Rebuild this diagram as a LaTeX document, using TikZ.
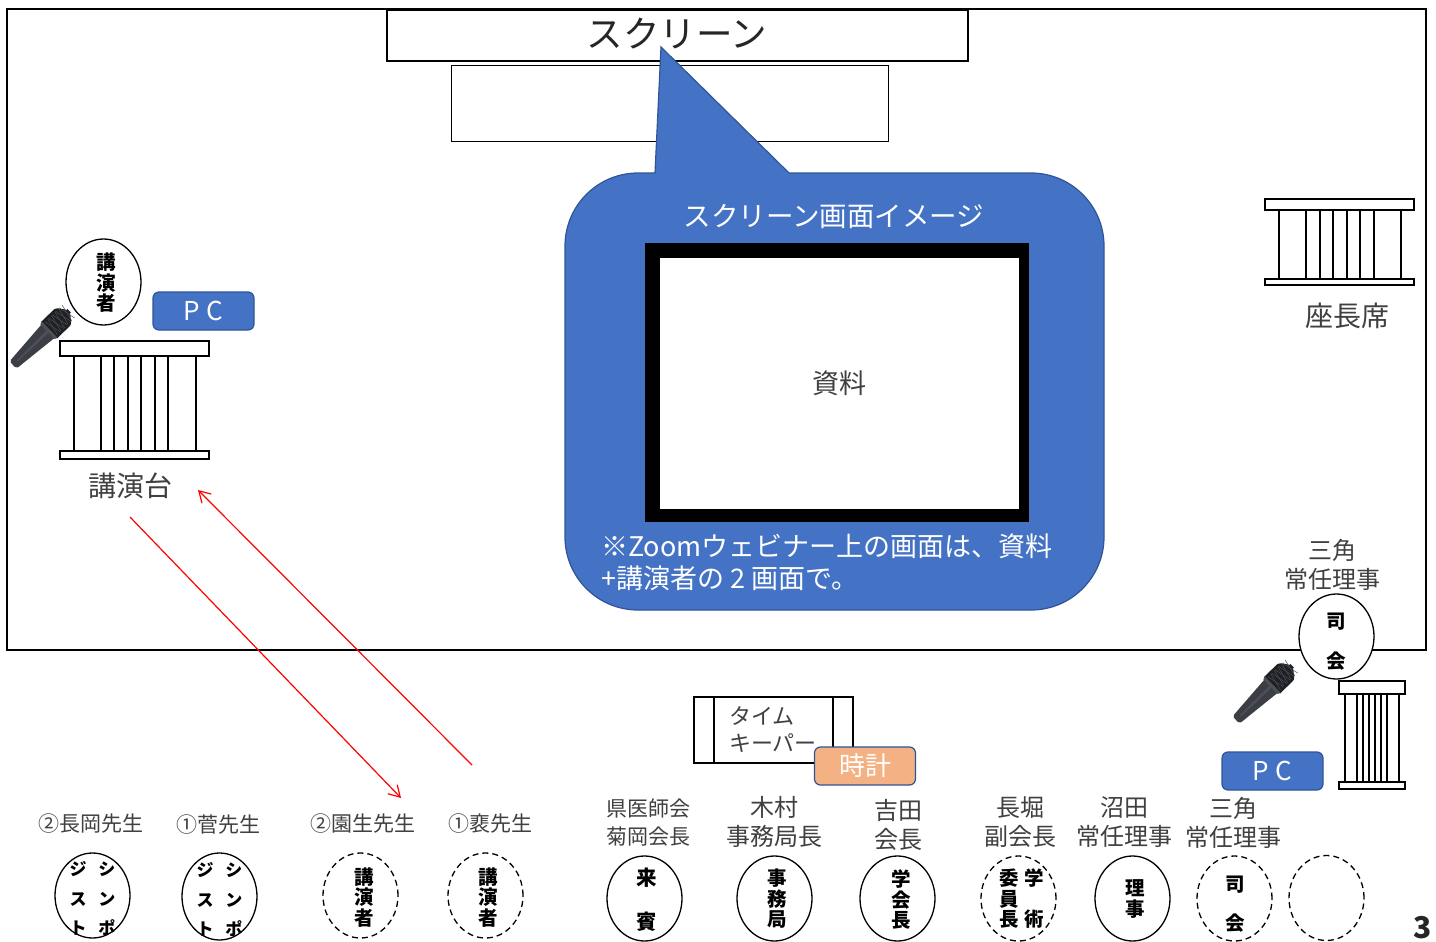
\documentclass[tikz,border=0pt]{standalone}
\usepackage{fontspec}
\setmainfont{Noto Sans CJK JP}
\usetikzlibrary{arrows.meta,shapes.geometric,calc}
\definecolor{pcblue}{HTML}{4472C4}
\definecolor{pcedge}{HTML}{2F5597}
\definecolor{clockfill}{HTML}{F4B183}
\definecolor{labcol}{HTML}{404040}
\definecolor{micbody}{HTML}{3B3F45}
\definecolor{michead}{HTML}{1E2024}
\definecolor{micmesh}{HTML}{4C5056}
\newcommand{\fsz}[2]{\fontsize{#1}{#2}\selectfont}
\tikzset{
  seat/.style={draw=black,line width=1.3pt,ellipse,minimum width=75pt,minimum height=85pt,inner sep=0pt,fill=white},
  seatd/.style={seat,dash pattern=on 6pt off 4pt},
  intext/.style={font=\bfseries\fsz{19.5}{20.5},align=center,inner sep=0pt,text=black,yshift=-1pt},
  biglab/.style={font=\fsz{24}{29},align=center,inner sep=0pt,text=labcol,yshift=-1pt},
  smalllab/.style={font=\fsz{21}{28},align=center,inner sep=0pt,text=labcol,yshift=-1pt},
  pcbox/.style={draw=pcedge,line width=1.2pt,fill=pcblue,rounded corners=6pt,minimum width=101pt,minimum height=38pt,inner sep=0pt,text=white,font=\fsz{26}{28}},
  clockbox/.style={pcbox,fill=clockfill},
  plank/.style={draw=black,line width=1.1pt,fill=white,inner sep=0pt},
  slat/.style={draw=black,line width=1.1pt},
  redarrow/.style={draw=red,line width=1.2pt,-{Straight Barb[length=11pt,width=13pt,line width=1.2pt]}},
  mic/.pic={
    \fill[micbody,rounded corners=2pt] (0,-5) -- (0,5) -- (50,9.5) -- (50,-9.5) -- cycle;
    \fill[micmesh] (6,-0.8) -- (50,-1.5) -- (50,1.5) -- (6,0.8) -- cycle;
    \fill[michead] (50,-11.5) -- (68,-11.5) to[out=0,in=-90] (78,-3) -- (78,3) to[out=90,in=0] (68,11.5) -- (50,11.5) -- cycle;
    \foreach \k in {53,58,...,73}{
      \draw[micmesh,line width=0.5pt] (\k,-9) -- ++(4,18);
      \draw[micmesh,line width=0.5pt] (\k,9) -- ++(4,-18);
    }
    \fill[micmesh] (48,-10.5) rectangle (51,10.5);
  }
}
\begin{document}
\begin{tikzpicture}[x=1pt,y=-1pt]
\useasboundingbox (0,0) rectangle (1436,942);
\fill[white] (0,0) rectangle (1436,942);

% room and screen
\node[draw=black,line width=1.7pt,minimum width=1419pt,minimum height=641pt,inner sep=0pt] (room) at (716.5,329.5) {};
\node[draw=black,line width=1.7pt,fill=white,minimum width=581pt,minimum height=51pt,inner sep=0pt] (screen) at (677.5,35.5) {};
\node[font=\fsz{36.5}{40},inner sep=0pt,text=black!85] (screenlab) at (677,34) {スクリーン};
\node[draw=black,line width=1pt,fill=white,minimum width=437pt,minimum height=75pt,inner sep=0pt] (table) at (670,103.5) {};

% speech bubble
\draw[draw=pcedge,line width=1.2pt,fill=pcblue]
  (655,173) -- (661,47) -- (789,173) -- (1031,173)
  .. controls (1071.3,173) and (1104,205.7) .. (1104,246)
  -- (1104,537)
  .. controls (1104,577.3) and (1071.3,610) .. (1031,610)
  -- (638,610)
  .. controls (597.7,610) and (565,577.3) .. (565,537)
  -- (565,246)
  .. controls (565,205.7) and (597.7,173) .. (638,173)
  -- cycle;
\node[font=\fsz{27.5}{30},inner sep=0pt,text=white] (bubbletitle) at (834,217) {スクリーン画面イメージ};
\node[fill=black,minimum width=384pt,minimum height=279pt,inner sep=0pt] (slideframe) at (837,382.5) {};
\node[fill=white,minimum width=359pt,minimum height=251pt,inner sep=0pt] (slide) at (839.5,383.5) {};
\node[font=\fsz{27}{30},inner sep=0pt,text=labcol] (slidelab) at (839,383) {資料};
\node[font=\fsz{27}{32},inner sep=0pt,text=white,align=left,anchor=west] (bubblenote) at (601,562.5) {※Zoomウェビナー上の画面は、資料\\+講演者の 2 画面で。};

% lectern
\node[plank,minimum width=149pt,minimum height=15pt] (lecterntop) at (134.5,348.5) {};
\node[plank,minimum width=149pt,minimum height=8pt] (lecternbase) at (134.5,455) {};
\foreach \x in {74,101,114,128,141,155,168,196}{\draw[slat] (\x,356) -- (\x,451);}
\node[font=\fsz{28}{30},inner sep=0pt,text=labcol] (lecternlab) at (130,486) {講演台};
\node[seat,minimum height=86pt] (speaker) at (103.5,282) {};
\node[intext] (speakertxt) at (106.5,282) {講\\演\\者};
\node[pcbox] (pc1) at (203.5,311) {P\hspace{7pt}C};
\pic[rotate=44] at (13,365) {mic};

% chair desk
\node[plank,minimum width=149pt,minimum height=11pt] (chairtop) at (1339.5,204.5) {};
\node[plank,minimum width=149pt,minimum height=6pt] (chairbase) at (1339.5,282) {};
\foreach \x in {1279,1306,1320,1333,1347,1360,1374,1401}{\draw[slat] (\x,210) -- (\x,279);}
\node[font=\fsz{28}{30},inner sep=0pt,text=labcol] (chairlab) at (1347,316) {座長席};

% MC
\node[biglab] (mcname) at (1332,564) {三角\\常任理事};
\node[seat] (mc) at (1336.5,636.5) {};
\node[intext,font=\bfseries\fsz{19.5}{40}] (mctxt) at (1336,641) {司\\会};
\node[plank,minimum width=66pt,minimum height=13pt] (mctop) at (1372,687.5) {};
\node[plank,minimum width=66pt,minimum height=7pt] (mcbase) at (1372,785.5) {};
\foreach \x in {1345,1357,1363,1369,1375,1381,1387,1399}{\draw[slat] (\x,694) -- (\x,782);}
\pic[rotate=44] at (1236,720) {mic};
\node[pcbox] (pc2) at (1272.5,771) {P\hspace{7pt}C};

% timekeeper
\node[draw=black,line width=1.2pt,fill=white,minimum width=159pt,minimum height=66pt,inner sep=0pt] (tk) at (773.5,730) {};
\draw[slat] (714,697) -- (714,763);
\draw[slat] (833,697) -- (833,763);
\node[font=\fsz{22}{27},inner sep=0pt,text=labcol,align=left,anchor=west] (tklab) at (729,730) {タイム\\キーパー};
\node[clockbox] (clock) at (865,766) {時計};

% front row labels
\node[smalllab] (n1) at (90.5,823) {②長岡先生};
\node[smalllab] (n2) at (218,824) {①菅先生};
\node[smalllab] (n3) at (362.5,823) {②園生先生};
\node[smalllab] (n4) at (490,823) {①裵先生};
\node[smalllab] (n5) at (648,822) {県医師会\\菊岡会長};
\node[biglab] (n6) at (774.5,821) {木村\\事務局長};
\node[biglab] (n7) at (898,824) {吉田\\会長};
\node[biglab] (n8) at (1020.5,821) {長堀\\副会長};
\node[biglab] (n9) at (1124,821) {沼田\\常任理事};
\node[biglab] (n10) at (1233,822) {三角\\常任理事};

% seats
\node[seat] (s1) at (92.5,895.5) {};
\node[intext,font=\bfseries\fsz{17}{29.5}] (t1) at (92.5,898) {ジ\hspace{12pt}シ\\ス\hspace{12pt}ン\\ト\hspace{12pt}ポ};
\node[seat,minimum height=87pt] (s2) at (219.5,896.5) {};
\node[intext,font=\bfseries\fsz{17}{29.5}] (t2) at (219.5,899) {ジ\hspace{12pt}シ\\ス\hspace{12pt}ン\\ト\hspace{12pt}ポ};
\node[seatd] (s3) at (360.5,895.5) {};
\node[intext] (t3) at (364,896.5) {講\\演\\者};
\node[seatd] (s4) at (485.5,895.5) {};
\node[intext] (t4) at (488,896.5) {講\\演\\者};
\node[seat] (s5) at (644.5,898.5) {};
\node[intext,font=\bfseries\fsz{20.5}{44}] (t5) at (647,899) {来\\賓};
\node[seat] (s6) at (774.5,898.5) {};
\node[intext] (t6) at (777,898) {事\\務\\局};
\node[seat] (s7) at (897.5,898.5) {};
\node[intext] (t7) at (901,899) {学\\会\\長};
\node[seatd] (s8) at (1018.5,898.5) {};
\node[intext] (t8) at (1021.5,898) {委\hspace{5pt}学\\員\hspace{5pt}\phantom{学}\\長\hspace{5pt}術};
\node[seat] (s9) at (1132.5,898.5) {};
\node[intext] (t9) at (1135,898) {理\\事};
\node[seatd] (s10) at (1234.5,898.5) {};
\node[intext,font=\bfseries\fsz{19.5}{39}] (t10) at (1235,903.5) {司\\会};
\node[seatd] (s11) at (1326.5,898) {};

% red arrows
\coordinate (a1s) at (130,517);
\coordinate (a1e) at (401,798);
\coordinate (a2s) at (472,765);
\coordinate (a2e) at (198,490);
\draw[redarrow] (a1s) -- (a1e);
\draw[redarrow] (a2s) -- (a2e);

% page number
\node[font=\bfseries\fsz{30}{32},inner sep=0pt,text=black!85] (pageno) at (1423,928) {3};
\end{tikzpicture}
\end{document}
